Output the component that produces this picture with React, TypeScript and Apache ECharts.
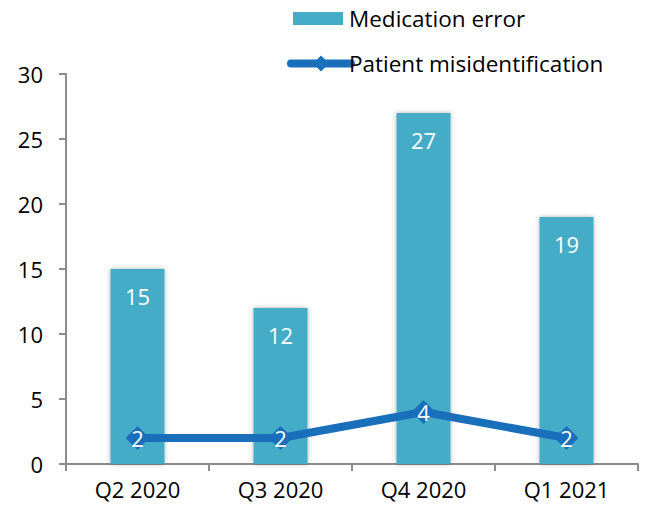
import React, { useEffect, useRef } from "react";
import * as echarts from "echarts";

const categories = ["Q2 2020", "Q3 2020", "Q4 2020", "Q1 2021"];
const medicationError = [15, 12, 27, 19];
const patientMisidentification = [2, 2, 4, 2];
const yTicks = { min: 0, max: 30, interval: 5 };

const FONT = "'Open Sans', 'Noto Sans', sans-serif";
const LINE_COLOR = "#1a6fbb";

export default function App() {
  const ref = useRef<HTMLDivElement>(null);
  useEffect(() => {
    if (!ref.current) return;
    const chart = echarts.init(ref.current, undefined, { renderer: "svg" });
    chart.setOption({
      animation: false,
      textStyle: { fontFamily: FONT },
      legend: [
        {
          left: 293,
          top: 7,
          padding: 0,
          itemWidth: 50,
          itemHeight: 13,
          itemGap: 0,
          textStyle: { fontSize: 22.5, color: "#000", fontFamily: FONT, padding: [0, 0, 0, 1] },
          data: [{ name: "Medication error", icon: "rect" }],
        },
        {
          left: 287,
          top: 52,
          padding: 0,
          itemWidth: 60,
          itemHeight: 20,
          itemGap: 0,
          textStyle: { fontSize: 22.5, color: "#000", fontFamily: FONT, padding: [0, 0, 0, -7] },
          data: [
            {
              name: "Patient misidentification",
              lineStyle: { width: 8, cap: "round", color: LINE_COLOR },
            },
          ],
        },
      ],
      grid: { left: 66, right: 9, top: 74, bottom: 50, containLabel: false },
      xAxis: {
        type: "category",
        data: categories,
        axisLine: { lineStyle: { color: "#8c8c8c", width: 2 } },
        axisTick: { show: true, length: 7, lineStyle: { color: "#8c8c8c", width: 2 } },
        axisLabel: { fontSize: 22, color: "#000", margin: 14, fontFamily: FONT },
      },
      yAxis: {
        type: "value",
        min: yTicks.min,
        max: yTicks.max,
        interval: yTicks.interval,
        axisLine: { show: true, lineStyle: { color: "#8c8c8c", width: 2 } },
        axisTick: { show: true, length: 7, lineStyle: { color: "#8c8c8c", width: 2 } },
        splitLine: { show: false },
        axisLabel: { fontSize: 22, color: "#000", margin: 23, fontFamily: FONT },
      },
      series: [
        {
          name: "Medication error",
          type: "bar",
          data: medicationError,
          barWidth: 54,
          itemStyle: {
            color: "#45acc7",
            shadowBlur: 5,
            shadowColor: "rgba(0,0,0,0.3)",
            shadowOffsetX: 0,
          },
          label: {
            show: true,
            position: "insideTop",
            distance: 16,
            color: "#fff",
            fontSize: 22,
            fontFamily: FONT,
          },
        },
        {
          name: "Patient misidentification",
          type: "line",
          data: patientMisidentification,
          symbol: "diamond",
          symbolSize: 24,
          lineStyle: { color: LINE_COLOR, width: 8 },
          itemStyle: { color: LINE_COLOR },
          label: {
            show: true,
            position: "inside",
            color: "#fff",
            fontSize: 22,
            fontFamily: FONT,
          },
        },
      ],
    });
    return () => chart.dispose();
  }, []);
  return <div ref={ref} style={{ width: 647, height: 514, position: "absolute", left: 0, top: 0 }} />;
}
